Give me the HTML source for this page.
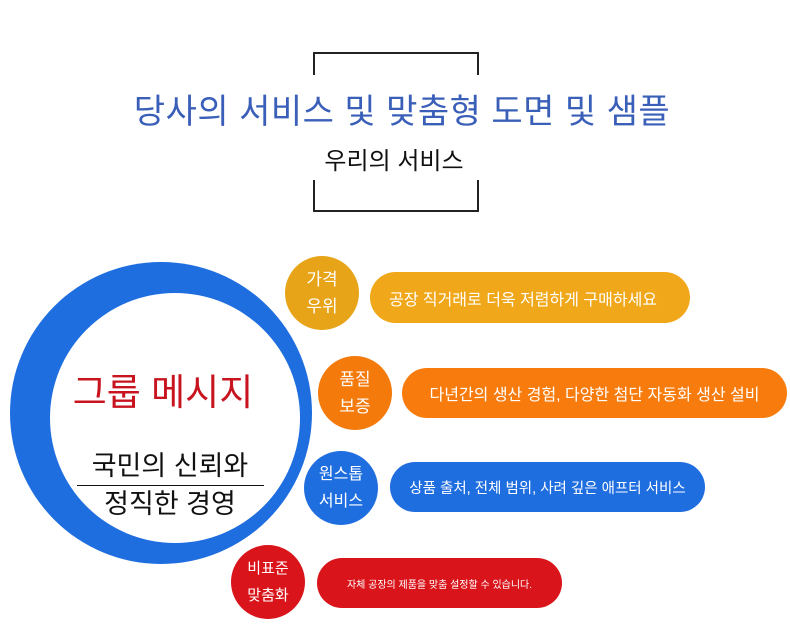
<!DOCTYPE html>
<html><head><meta charset="utf-8"><style>
body{margin:0;width:790px;height:644px;background:#fff;position:relative;overflow:hidden;font-family:"Liberation Sans","Noto Sans CJK KR",sans-serif}
.a{position:absolute}
.c{position:absolute;border-radius:50%;color:#fff;display:flex;flex-direction:column;align-items:center;justify-content:center;font-size:17px;line-height:27px;text-align:center}
.p{position:absolute;border-radius:26px;color:#fff;display:flex;align-items:center;justify-content:center;font-size:16px}
</style></head><body>
<div class="a" style="left:313px;top:52px;width:162px;height:156px;border:2px solid #222"></div>
<div class="a" style="left:300px;top:75px;width:190px;height:105px;background:#fff"></div>
<div class="a" style="left:0;top:84px;width:804px;text-align:center;font-size:34px;color:#3a5fb8;letter-spacing:0.5px">당사의 서비스 및 맞춤형 도면 및 샘플</div>
<div class="a" style="left:0;top:141px;width:788px;text-align:center;font-size:24px;color:#111">우리의 서비스</div>

<div class="a" style="left:10px;top:262px;width:302px;height:302px;border-radius:50%;background:#1f6ee0"></div>
<div class="a" style="left:50px;top:293px;width:250px;height:250px;border-radius:50%;background:#fff"></div>
<div class="a" style="left:50px;top:362px;width:226px;text-align:center;font-size:37px;color:#c8141e">그룹 메시지</div>
<div class="a" style="left:58px;top:444px;width:224px;text-align:center;font-size:27px;color:#111">국민의 신뢰와</div>
<div class="a" style="left:77px;top:485px;width:187px;height:1px;background:#111"></div>
<div class="a" style="left:58px;top:482px;width:224px;text-align:center;font-size:27px;color:#111">정직한 경영</div>

<div class="c" style="left:285px;top:256px;width:74px;height:74px;background:#e8a418">가격<br>우위</div>
<div class="p" style="left:370px;top:272px;width:320px;height:51px;background:#f0a81a;padding-right:14px;box-sizing:border-box">공장 직거래로 더욱 저렴하게 구매하세요</div>
<div class="c" style="left:318px;top:356px;width:74px;height:74px;background:#f57a0c">품질<br>보증</div>
<div class="p" style="left:402px;top:368px;width:385px;height:50px;background:#f77b0d">다년간의 생산 경험, 다양한 첨단 자동화 생산 설비</div>
<div class="c" style="left:304px;top:451px;width:74px;height:74px;background:#1f6ee0;font-size:16px">원스톱<br>서비스</div>
<div class="p" style="left:390px;top:462px;width:315px;height:50px;background:#1f6ee0;font-size:14.5px">상품 출처, 전체 범위, 사려 깊은 애프터 서비스</div>
<div class="c" style="left:231px;top:545px;width:74px;height:74px;background:#d9141b;font-size:15px">비표준<br>맞춤화</div>
<div class="p" style="left:317px;top:558px;width:245px;height:50px;background:#d9141b;font-size:10px">자체 공장의 제품을 맞춤 설정할 수 있습니다.</div>
</body></html>
